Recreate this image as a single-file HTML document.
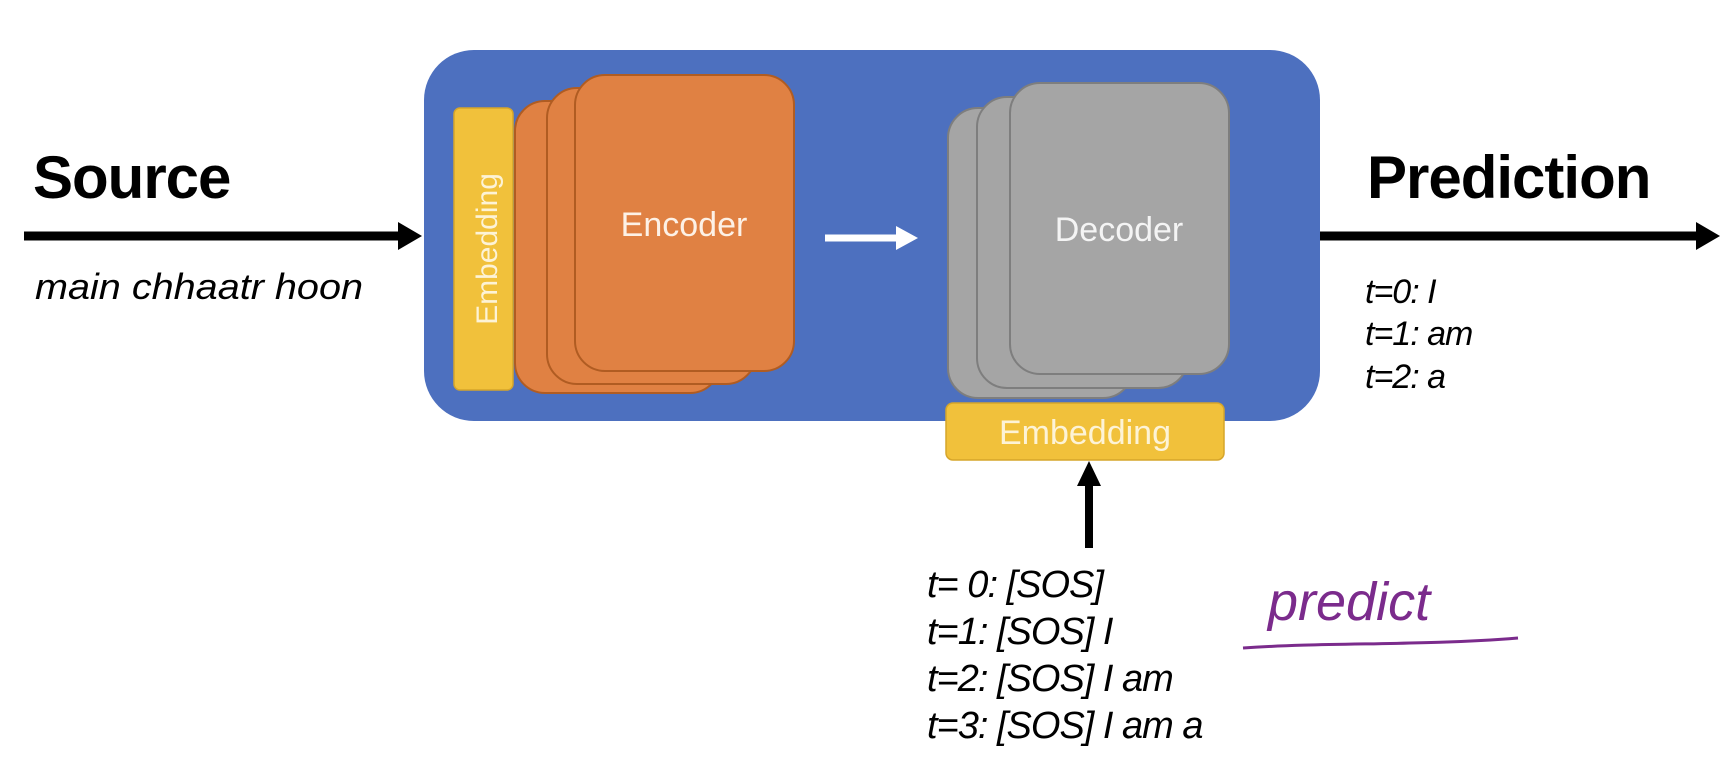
<!DOCTYPE html>
<html><head><meta charset="utf-8"><style>
html,body{margin:0;padding:0;background:#fff;}
svg{display:block;}
text{font-family:"Liberation Sans",sans-serif;}
</style></head><body>
<svg width="1726" height="780" viewBox="0 0 1726 780" xmlns="http://www.w3.org/2000/svg">
<rect x="424" y="50" width="896" height="371" rx="50" fill="#4d70bf"/>
<line x1="24" y1="236" x2="400" y2="236" stroke="#000" stroke-width="9"/>
<polygon points="398,222 422,236 398,250" fill="#000"/>
<text x="33" y="198" font-size="60" font-weight="bold" fill="#000" letter-spacing="-1">Source</text>
<text x="35" y="299" font-size="36" font-style="italic" fill="#000" textLength="328" lengthAdjust="spacingAndGlyphs">main chhaatr hoon</text>
<rect x="454" y="108" width="59" height="282" rx="6" fill="#f1c13b" stroke="#d6a52a" stroke-width="1.5"/>
<text transform="translate(497,249) rotate(-90)" text-anchor="middle" font-size="30" fill="#fdf3d6">Embedding</text>
<rect x="515" y="101" width="205" height="292" rx="30" fill="#e08143" stroke="#b05c22" stroke-width="2"/>
<rect x="547" y="88" width="209" height="296" rx="30" fill="#e08143" stroke="#b05c22" stroke-width="2"/>
<rect x="575" y="75" width="219" height="296" rx="30" fill="#e08143" stroke="#b05c22" stroke-width="2"/>
<text x="684" y="236" text-anchor="middle" font-size="34" fill="#fdf1e6">Encoder</text>
<line x1="825" y1="238" x2="900" y2="238" stroke="#fff" stroke-width="7"/>
<polygon points="896,226 918,238 896,250" fill="#fff"/>
<rect x="948" y="108" width="185" height="290" rx="30" fill="#a5a5a5" stroke="#7e7e7e" stroke-width="2"/>
<rect x="977" y="97" width="211" height="291" rx="30" fill="#a5a5a5" stroke="#7e7e7e" stroke-width="2"/>
<rect x="1010" y="83" width="219" height="291" rx="30" fill="#a5a5a5" stroke="#7e7e7e" stroke-width="2"/>
<text x="1119" y="241" text-anchor="middle" font-size="34" fill="#f4f4f4">Decoder</text>
<rect x="946" y="403" width="278" height="57" rx="7" fill="#f1c13b" stroke="#d6a52a" stroke-width="1.5"/>
<text x="1085" y="444" text-anchor="middle" font-size="34" fill="#fdf3d6">Embedding</text>
<line x1="1089" y1="548" x2="1089" y2="482" stroke="#000" stroke-width="8"/>
<polygon points="1077,486 1089,461 1101,486" fill="#000"/>
<line x1="1320" y1="236" x2="1700" y2="236" stroke="#000" stroke-width="9"/>
<polygon points="1696,222 1720,236 1696,250" fill="#000"/>
<text x="1367" y="198" font-size="60" font-weight="bold" fill="#000" letter-spacing="-1">Prediction</text>
<g font-size="34" font-style="italic" fill="#000" letter-spacing="-1">
<text x="1365" y="303">t=0: I</text>
<text x="1365" y="345">t=1: am</text>
<text x="1365" y="388">t=2: a</text>
</g>
<g font-size="38" font-style="italic" fill="#000" letter-spacing="-1">
<text x="927" y="597">t= 0: [SOS]</text>
<text x="927" y="644">t=1: [SOS] I</text>
<text x="927" y="691">t=2: [SOS] I am</text>
<text x="927" y="738">t=3: [SOS] I am a</text>
</g>
<text x="1268" y="620" font-size="54" font-style="italic" fill="#7b2b8c" font-family="'Liberation Serif',serif">predict</text>
<path d="M1243,648 C1330,642 1420,646 1518,638" stroke="#7b2b8c" stroke-width="3" fill="none"/>
</svg>
</body></html>
